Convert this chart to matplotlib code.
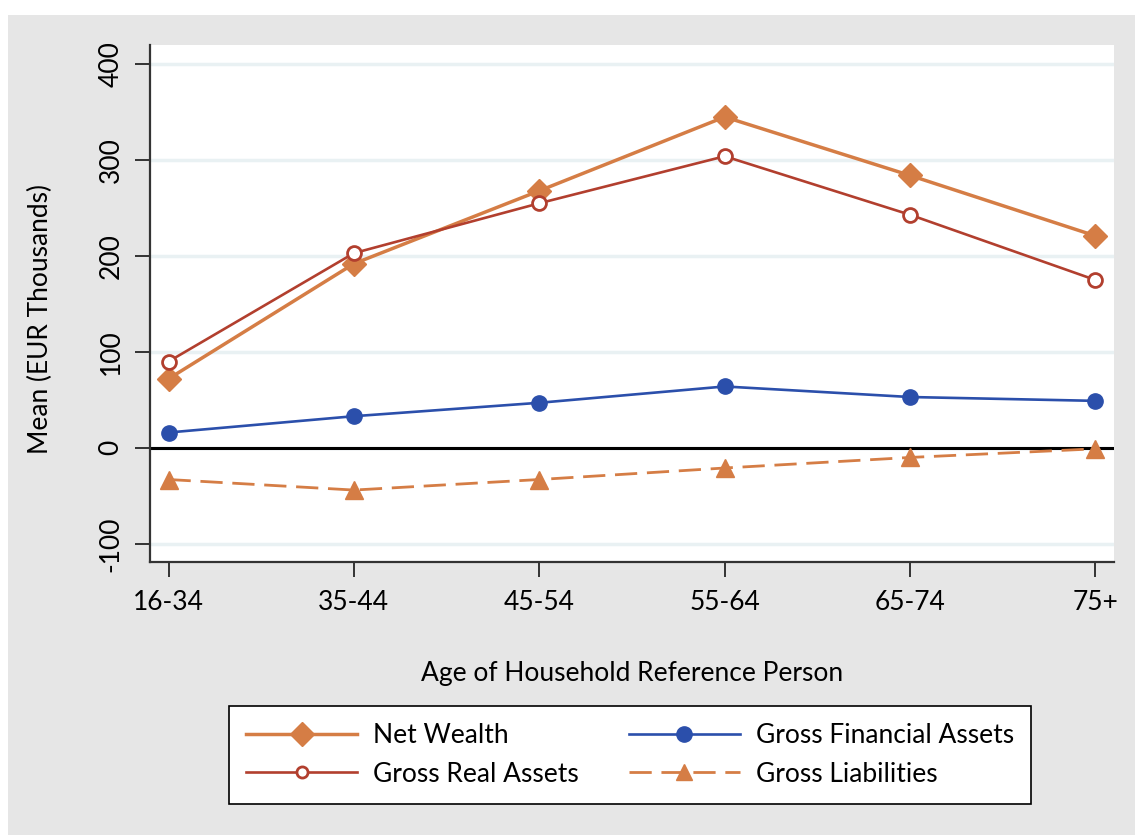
import matplotlib
matplotlib.use("Agg")
import matplotlib.pyplot as plt
from matplotlib.patches import Rectangle
from matplotlib.lines import Line2D

categories = ["16-34", "35-44", "45-54", "55-64", "65-74", "75+"]
net_wealth = [72, 192, 268, 345, 284, 221]
gross_real = [90, 203, 255, 304, 243, 175]
gross_fin = [16, 33, 47, 64, 53, 49]
gross_liab = [-33, -44, -33, -21, -10, -1]
yticks = [-100, 0, 100, 200, 300, 400]

plt.rcParams['font.family'] = ['Lato', 'DejaVu Sans']

W, H = 1135, 835
fig = plt.figure(figsize=(W / 100, H / 100), dpi=100, facecolor='white')
bg = Rectangle((8 / W, 0), 1 - 8 / W, 1 - 15 / H, transform=fig.transFigure,
               facecolor='#e6e6e6', edgecolor='none', zorder=-10)
fig.patches.append(bg)

ax = fig.add_axes([150 / W, 1 - 562 / H, (1114 - 150) / W, (562 - 45) / H])
ax.set_facecolor('white')

c_orange = '#d57d45'
c_red = '#b23f2e'
c_blue = '#2b4fab'
FS = 19

x = list(range(len(categories)))
for yv in yticks:
    ax.axhline(yv, color='#e9f1f3', lw=2.5, zorder=0)
ax.axhline(0, color='black', lw=2.2, zorder=1)

ax.plot(x, net_wealth, color=c_orange, lw=2.5, marker='D', ms=12, mfc=c_orange, mec=c_orange, zorder=3)
ax.plot(x, gross_real, color=c_red, lw=1.9, marker='o', ms=10, mfc='white', mec=c_red, mew=2, zorder=3)
ax.plot(x, gross_fin, color=c_blue, lw=1.9, marker='o', ms=11, mfc=c_blue, mec=c_blue, zorder=3)
ax.plot(x, gross_liab, color=c_orange, lw=2.0, ls=(0, (8, 3.5)), marker='^', ms=13, mfc=c_orange, mec=c_orange, zorder=3)

ax.set_xlim(-0.1, 5.1)
ax.set_ylim(-119, 420)
ax.set_xticks(x)
ax.set_xticklabels(categories)
ax.set_yticks(yticks)
ax.set_yticklabels([str(v) for v in yticks], rotation=90, va='center')
for s in ['top', 'right']:
    ax.spines[s].set_visible(False)
for s in ['left', 'bottom']:
    ax.spines[s].set_color('#333333')
    ax.spines[s].set_linewidth(1.6)
ax.tick_params(axis='both', length=11, width=1.4, color='#333333', labelsize=FS)
ax.tick_params(axis='x', pad=9)
ax.tick_params(axis='y', pad=8)
ax.set_xlabel("Age of Household Reference Person", fontsize=FS)
ax.set_ylabel("Mean (EUR Thousands)", fontsize=FS)
ax.xaxis.set_label_coords(632 / W, 1 - 673 / H, transform=fig.transFigure)
ax.yaxis.set_label_coords(40 / W, 1 - 319 / H, transform=fig.transFigure)
ax.xaxis.label.set_va('center')
ax.yaxis.label.set_va('center')

handles = [
    Line2D([], [], color=c_orange, lw=2.5, marker='D', ms=12, mfc=c_orange, mec=c_orange),
    Line2D([], [], color=c_red, lw=1.9, marker='o', ms=8, mfc='white', mec=c_red, mew=2),
    Line2D([], [], color=c_blue, lw=1.9, marker='o', ms=11, mfc=c_blue, mec=c_blue),
    Line2D([], [], color=c_orange, lw=2.0, ls=(0, (8, 3.5)), marker='^', ms=12, mfc=c_orange, mec=c_orange),
]
labels = ["Net Wealth", "Gross Real Assets", "Gross Financial Assets", "Gross Liabilities"]
leg = fig.legend(handles, labels, ncol=2, loc='center', bbox_to_anchor=(630 / W, 1 - 755 / H),
                 fontsize=FS, frameon=True, fancybox=False, edgecolor='black', facecolor='white',
                 framealpha=1, handlelength=4.2, columnspacing=1.9, borderpad=0.65,
                 labelspacing=0.5, handletextpad=0.6)
leg.get_frame().set_linewidth(1.2)

fig.savefig("out.png", dpi=100, facecolor='white')
